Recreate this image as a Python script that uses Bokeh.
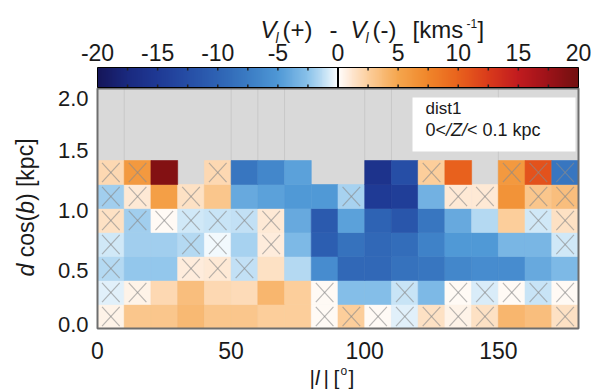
import numpy as np
from math import pi
from bokeh.plotting import figure
from bokeh.models import ColumnDataSource, LinearColorMapper, Range1d
from bokeh.core.properties import value
from bokeh.transform import transform
from bokeh.embed import file_html
from bokeh.resources import INLINE

# ---------------- data ----------------
nan = float("nan")
l_bins = [5, 15, 25, 35, 45, 55, 65, 75, 85, 95, 105, 115, 125, 135, 145, 155, 165, 175]
d_bins = [0.1, 0.3, 0.5, 0.7, 0.9, 1.1, 1.3]
l_width, d_height = 10, 0.2

# V_l(+) - V_l(-) [km/s], one list per d cos(b) bin (bottom to top)
dv_d01 = [0.5, 3.0, 3.0, 3.8, 3.0, 3.0, 2.5, 2.5, 0.3, 2.5, 0.2, -0.5, 1.5, 0.5, 1.5, 4.0, 3.5, 1.5]
dv_d03 = [-0.5, 0.5, 2.0, 3.5, 2.0, 1.8, 4.0, 2.5, 0.3, -2.8, -2.8, -1.0, -3.0, 0.2, -0.7, 0.2, -1.0, 0.3]
dv_d05 = [-1.5, -2.2, -2.2, 0.8, 1.0, -1.2, 1.5, -1.5, -6.0, -9.5, -9.5, -8.5, -8.0, -6.5, -6.0, -6.0, -4.0, -3.0]
dv_d07 = [-0.8, -2.0, -2.0, -1.5, -0.3, -1.8, 0.8, -3.0, -10.5, -8.5, -9.5, -9.0, -7.0, -5.0, -5.0, -3.2, -3.2, -0.8]
dv_d09 = [1.5, -2.0, 0.2, -0.8, -1.0, -1.2, 1.0, -4.0, -11.0, -4.5, -10.0, -11.5, -8.0, -4.0, -1.5, 2.5, -0.8, 1.5]
dv_d11 = [-2.0, 1.0, 5.5, 1.5, 3.0, -4.0, -4.5, -5.0, -5.0, -1.8, -15.0, -14.5, -3.5, 1.0, 1.0, 6.5, 3.0, 3.5]
dv_d13 = [2.0, 6.0, 19.0, nan, 2.0, -8.0, -6.5, -4.5, nan, nan, -16.0, -12.5, 2.5, 10.0, nan, 6.0, 11.0, -8.0]
dv_rows = [dv_d01, dv_d03, dv_d05, dv_d07, dv_d09, dv_d11, dv_d13]

# cells marked with a cross (1), per d cos(b) bin (bottom to top)
x_d01 = [1, 0, 0, 0, 0, 0, 0, 0, 1, 1, 1, 1, 1, 1, 1, 0, 0, 1]
x_d03 = [1, 1, 0, 0, 0, 0, 0, 0, 1, 0, 0, 1, 0, 1, 1, 1, 1, 1]
x_d05 = [1, 0, 0, 1, 1, 1, 0, 0, 0, 0, 0, 0, 0, 0, 0, 0, 0, 0]
x_d07 = [1, 0, 0, 1, 1, 0, 1, 0, 0, 0, 0, 0, 0, 0, 0, 0, 0, 1]
x_d09 = [1, 1, 1, 1, 1, 1, 1, 0, 0, 0, 0, 0, 0, 0, 0, 0, 1, 1]
x_d11 = [1, 1, 0, 1, 0, 0, 0, 0, 0, 1, 0, 0, 0, 1, 1, 0, 1, 1]
x_d13 = [1, 1, 0, 0, 1, 0, 0, 0, 0, 0, 0, 0, 1, 0, 0, 1, 1, 1]
x_rows = [x_d01, x_d03, x_d05, x_d07, x_d09, x_d11, x_d13]

l_range = (0, 180)
d_range = (0.0, 2.0)
x_ticks = [0, 50, 100, 150]
y_ticks = [0.0, 0.5, 1.0, 1.5, 2.0]
cb_range = (-20, 20)
cb_ticks = [-20, -15, -10, -5, 0, 5, 10, 15, 20]
cb_marks = [-17.5, -15, -12.5, -10, -7.5, -5, -2.5, 2.5, 5, 7.5, 10, 12.5, 15, 17.5]
faint_l = [10, 50, 60, 70, 100, 110, 150]

# ---------------- colour map ----------------
anchors = [(-20, "#15165a"), (-17.5, "#1a2a80"), (-15, "#1f3a95"), (-12.5, "#264ea6"),
           (-10, "#2e63b4"), (-7.5, "#3b7cc4"), (-5, "#4f98d6"), (-2.5, "#8ac2ea"),
           (-1, "#c9e4f6"), (0, "#ffffff"), (1, "#fee9d6"), (2.5, "#fccf9e"),
           (5, "#f5a64e"), (7.5, "#f0862a"), (10, "#e9631d"), (12.5, "#da3c1b"),
           (15, "#c21c1f"), (17.5, "#9e1219"), (20, "#731010")]
av = np.array([a[0] for a in anchors])
ac = np.array([[int(c[1][i:i + 2], 16) for i in (1, 3, 5)] for c in anchors], dtype=float)
palette = []
for v in np.linspace(cb_range[0], cb_range[1], 256):
    rgb = [int(round(np.interp(v, av, ac[:, k]))) for k in range(3)]
    palette.append("#%02x%02x%02x" % tuple(rgb))
mapper = LinearColorMapper(palette=palette, low=cb_range[0], high=cb_range[1])

# ---------------- layout (pixels) ----------------
W, H = 591, 390
X0, X1 = 97, 578          # pixel columns of l = 0 and l = 180
Y0, Y1 = 328, 88          # pixel rows of d = 0 and d = 2
SX = (X1 - X0) / (l_range[1] - l_range[0])
SY = (Y0 - Y1) / (d_range[1] - d_range[0])


def dx(px):
    return l_range[0] + (px - X0) / SX


def dy(py):
    return d_range[0] + (Y0 - py) / SY


def cb_to_l(v):
    return l_range[0] + (v - cb_range[0]) * (l_range[1] - l_range[0]) / (cb_range[1] - cb_range[0])


FONT = "Liberation Sans"
TXT = "#1a1a1a"
WIDTHS = {' ': .278, '(': .333, ')': .333, '[': .278, ']': .278, 'k': .5, 'p': .556,
          'c': .5, 'o': .556, 's': .5, 'b': .556, 'd': .556}


def tw(s, size):
    return sum(WIDTHS.get(ch, .556) for ch in s) * size


p = figure(width=W, height=H, x_range=Range1d(dx(0), dx(W)), y_range=Range1d(dy(H), dy(0)),
           x_axis_location=None, y_axis_location=None, min_border=0,
           outline_line_color=None, background_fill_color="white", border_fill_color="white",
           output_backend="svg", toolbar_location=None)
p.grid.visible = False

# ---- map frame ----
p.quad(left=[l_range[0]], right=[l_range[1]], bottom=[d_range[0]], top=[d_range[1]],
       fill_color="#d9d9d9", line_color=None)
p.segment(x0=faint_l, y0=[d_range[0]] * len(faint_l), x1=faint_l, y1=[d_range[1]] * len(faint_l),
          color="#c8c8c8", line_width=1)

cl, cd, cv, xl, xd = [], [], [], [], []
for j, row in enumerate(dv_rows):
    for i, v in enumerate(row):
        if not np.isnan(v):
            cl.append(l_bins[i]); cd.append(d_bins[j]); cv.append(v)
            if x_rows[j][i]:
                xl.append(l_bins[i]); xd.append(d_bins[j])
src = ColumnDataSource(dict(l=cl, d=cd, v=cv))
p.rect(x="l", y="d", width=l_width, height=d_height, source=src,
       fill_color=transform("v", mapper), line_color=transform("v", mapper), line_width=0.6)

hx, hy = 0.33 * l_width, 0.4 * d_height
xl = np.array(xl, dtype=float); xd = np.array(xd, dtype=float)
p.segment(x0=xl - hx, y0=xd - hy, x1=xl + hx, y1=xd + hy, color="#8a8a8a", alpha=0.6, line_width=1.2)
p.segment(x0=xl - hx, y0=xd + hy, x1=xl + hx, y1=xd - hy, color="#8a8a8a", alpha=0.6, line_width=1.2)

p.quad(left=[l_range[0]], right=[l_range[1]], bottom=[d_range[0]], top=[d_range[1]],
       fill_color=None, line_color="#6e6e6e", line_width=2)

# legend box
p.quad(left=[dx(412)], right=[dx(575)], bottom=[dy(151)], top=[dy(97)],
       fill_color="white", line_color=None)

# ---- colour bar ----
cb_bot, cb_top = dy(87), dy(67)
grad = np.linspace(cb_range[0], cb_range[1], 481)[None, :]
p.image(image=[grad], x=l_range[0], y=cb_bot, dw=l_range[1] - l_range[0], dh=cb_top - cb_bot,
        color_mapper=mapper)
mk = [cb_to_l(v) for v in cb_marks]
p.segment(x0=mk, y0=[cb_top] * len(mk), x1=mk, y1=[dy(70)] * len(mk), color="#222222", line_width=1.5)
p.segment(x0=mk, y0=[cb_bot] * len(mk), x1=mk, y1=[dy(84)] * len(mk), color="#222222", line_width=1.5)
p.segment(x0=[cb_to_l(0)], y0=[cb_bot], x1=[cb_to_l(0)], y1=[cb_top], color="black", line_width=2)
p.quad(left=[l_range[0]], right=[l_range[1]], bottom=[cb_bot], top=[cb_top],
       fill_color=None, line_color="black", line_width=1)

# ---- texts (all vertically centred: y is the pixel row of the text's middle) ----
T = dict(x=[], y=[], text=[], size=[], style=[], angle=[], align=[])


def put(xpx, ypx, text, size, style="normal", angle=0.0, align="left"):
    T["x"].append(dx(xpx)); T["y"].append(dy(ypx)); T["text"].append(text)
    T["size"].append(f"{size}px"); T["style"].append(style); T["angle"].append(angle)
    T["align"].append(align)


# colour-bar tick labels
for t in cb_ticks:
    put(X0 + (cb_to_l(t) - l_range[0]) * SX, 52, "%d" % t, 23, align="center")

# colour-bar title: V_l(+) - V_l(-) [kms^-1]
tb = 28.8
put(260, tb, "V", 24, "italic")
put(275, tb + 9, "l", 14, "italic")
put(282, tb, "(+)", 24)
put(329, tb, "-", 24)
put(350, tb, "V", 24, "italic")
put(365, tb + 9, "l", 14, "italic")
put(372, tb, "(-)", 24)
put(412, tb, "[kms", 24)
put(466, 23, "-1", 12)
put(477, tb, "]", 24)

# axis tick labels
for t in x_ticks:
    put(X0 + (t - l_range[0]) * SX, 350, "%d" % t, 23, align="center")
for t in y_ticks:
    py = min(max(Y0 - (t - d_range[0]) * SY + 2, Y1 + 9.5), Y0 - 4.5)
    put(88, py, "%.1f" % t, 22, align="right")

# x-axis title |l| [o]
xb = 377
put(309, xb, "|", 21)
put(314.5, xb, "l", 21, "italic")
put(323, xb, "|", 21)
put(333, xb, "[", 21)
put(340, xb - 7, "o", 12)
put(348, xb, "]", 21)

# y-axis title d cos(b) [kpc] (rotated, placed run after run; spaces as advances)
ys = 276.0
for txt, sty, adv in [("d", "italic", 0.278), ("cos(", "normal", 0.0),
                      ("b", "italic", 0.0), (") [kpc]", "normal", 0.0)]:
    put(25, ys, txt, 23, sty, angle=pi / 2)
    ys -= tw(txt, 23) + adv * 23

# legend texts
put(425, 108, "dist1", 17)
lx = 425.0
for txt, sty in [("0<", "normal"), ("/Z/", "italic"), ("<", "normal")]:
    put(lx, 129, txt, 18, sty)
    lx += {"0<": 1.14, "/Z/": 1.167, "<": 0.584}[txt] * 18
put(lx + 0.278 * 18, 129, "0.1 kpc", 18)

tsrc = ColumnDataSource(T)
p.text(x="x", y="y", text="text", source=tsrc, text_font=value(FONT), text_font_size="size",
       text_font_style="style", angle="angle", text_align="align", text_baseline="middle",
       text_color=TXT)

open("out.html", "w").write(file_html(p, INLINE))
